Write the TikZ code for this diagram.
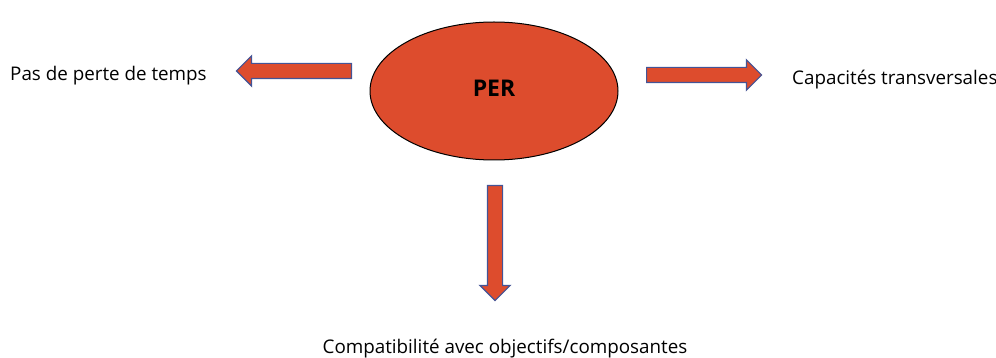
\documentclass[tikz,border=0pt]{standalone}
\usepackage{fontspec}
\setmainfont{Open Sans}
\usetikzlibrary{shapes.geometric,shapes.arrows}
\definecolor{perred}{RGB}{221,76,45}
\definecolor{arrowblue}{RGB}{68,84,150}
\tikzset{
  label/.style = {inner sep=0pt, font=\fontsize{18.8}{22}\selectfont},
  pernode/.style = {ellipse, draw=black, fill=perred, line width=1pt, minimum width=248pt, minimum height=138pt, inner sep=0pt},
  blockarrow/.style = {single arrow, draw=arrowblue, fill=perred, line width=1.2pt, inner xsep=0pt, inner ysep=7pt, single arrow head extend=7.5pt, minimum height=115pt, anchor=tail}
}
\begin{document}
\begin{tikzpicture}[x=1pt,y=-1pt]
\useasboundingbox (0,0) rectangle (996,358);

% centre
\node [pernode] (per) at (494,91) {};
\node [anchor=base, font=\bfseries\fontsize{23}{26}\selectfont, inner sep=0pt] (pertext) at (494,97) {PER};

% arrows
\node [blockarrow, rotate=180] (aleft) at (352,71) {};
\node [blockarrow] (aright) at (646,75) {};
\node [blockarrow, rotate=-90] (adown) at (495,185) {};

% labels
\node [label, anchor=base west] (temps) at (10,81) {Pas de perte de temps};
\node [label, anchor=base west] (capa) at (792,85) {Capacités transversales};
\node [label, anchor=base] (compat) at (505,353) {Compatibilité avec objectifs/composantes};

\end{tikzpicture}
\end{document}
